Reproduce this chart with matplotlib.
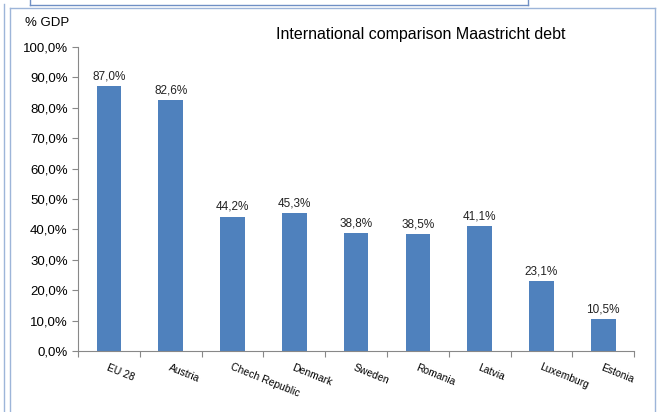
import matplotlib.pyplot as plt
from matplotlib.lines import Line2D
from matplotlib.ticker import FuncFormatter

countries = ["EU 28", "Austria", "Chech Republic", "Denmark", "Sweden",
             "Romania", "Latvia", "Luxemburg", "Estonia"]
debt = [87.0, 82.6, 44.2, 45.3, 38.8, 38.5, 41.1, 23.1, 10.5]
yticks = [0, 10, 20, 30, 40, 50, 60, 70, 80, 90, 100]

plt.rcParams['font.family'] = ['Liberation Sans', 'DejaVu Sans']

fig = plt.figure(figsize=(6.64, 4.12), dpi=100)
ax = fig.add_axes([0.1175, 0.148, 0.8375, 0.738])

x = range(len(countries))
bars = ax.bar(x, debt, width=0.4, color='#4f81bd')
for xi, v in zip(x, debt):
    ax.text(xi, v + 1.2, ('%.1f%%' % v).replace('.', ','), ha='center',
            va='bottom', fontsize=8.5, color='#222222')

ax.set_xlim(-0.5, len(countries) - 0.5)
ax.set_ylim(0, 100)
ax.set_yticks(yticks)
ax.yaxis.set_major_formatter(FuncFormatter(lambda v, p: ('%.1f%%' % v).replace('.', ',')))
ax.set_xticks([i - 0.5 for i in range(len(countries) + 1)])
ax.set_xticklabels([])
ax.set_xticks(list(x), minor=True)
ax.set_xticklabels(countries, minor=True, rotation=-22, ha='left',
                   rotation_mode='anchor', fontsize=7.5)
ax.tick_params(axis='x', which='minor', length=0, pad=8)
ax.tick_params(axis='x', which='major', length=4, color='#888888')
ax.tick_params(axis='y', length=4, color='#888888', labelsize=9.5)

for s in ['top', 'right']:
    ax.spines[s].set_visible(False)
for s in ['left', 'bottom']:
    ax.spines[s].set_color('#888888')

fig.text(0.038, 0.936, '% GDP', fontsize=9.5)
fig.text(0.634, 0.906, 'International comparison Maastricht debt',
         ha='center', fontsize=11.5)

# frame lines around the chart area
bc = '#9db5d9'
fig.add_artist(Line2D([0.015, 0.015], [0.0, 0.98], color=bc, lw=1))
fig.add_artist(Line2D([0.015, 0.986], [0.98, 0.98], color=bc, lw=1))
fig.add_artist(Line2D([0.986, 0.986], [0.0, 0.98], color=bc, lw=1))
fig.add_artist(Line2D([0.006, 0.006], [0.0, 0.99], color=bc, lw=1))
fig.add_artist(Line2D([0.045, 0.795], [0.988, 0.988], color='#6f8fc4', lw=1))
fig.add_artist(Line2D([0.795, 0.795], [0.988, 1.0], color='#6f8fc4', lw=1))
fig.add_artist(Line2D([0.045, 0.045], [0.988, 1.0], color='#6f8fc4', lw=1))

fig.savefig('out.png', dpi=100)
